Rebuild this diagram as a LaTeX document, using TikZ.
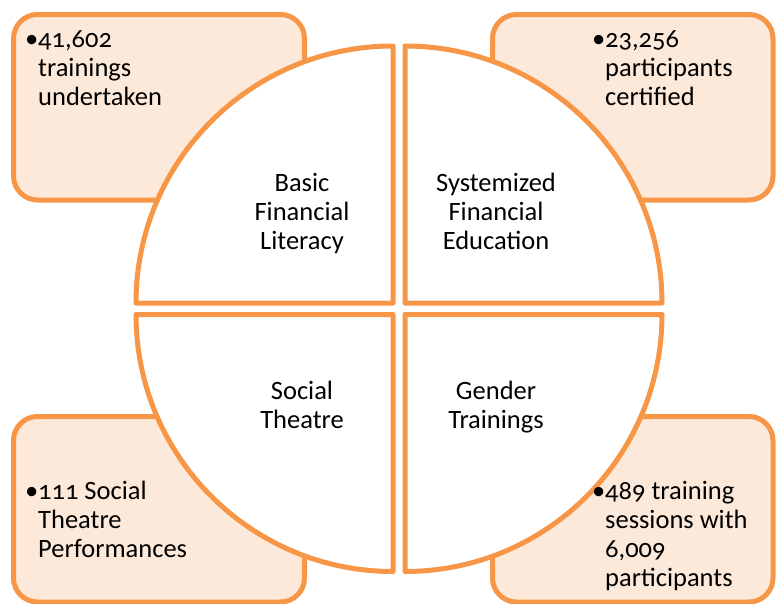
\documentclass[tikz,border=0pt]{standalone}
\usepackage{fontspec}
\setmainfont{Carlito}[Numbers=OldStyle]
\definecolor{borange}{HTML}{F79646}
\definecolor{bfill}{HTML}{FDE9D9}
\begin{document}
\begin{tikzpicture}[x=1pt,y=-1pt,
  box/.style={draw=borange,fill=bfill,line width=5pt,rounded corners=24pt},
  quad/.style={draw=borange,fill=white,line width=5pt,line join=round},
  boxtext/.style={anchor=base west,align=left,inner sep=0pt,font=\fontsize{26.5}{29}\selectfont},
  quadtext/.style={anchor=base,align=center,inner sep=0pt,font=\fontsize{26.5}{29}\selectfont}]
\useasboundingbox (0,0) rectangle (776,603);
% corner boxes
\draw[box] (13.5,14.5) rectangle (304.5,200);
\draw[box] (492.5,14.5) rectangle (773,200);
\draw[box] (13.5,416.5) rectangle (304.5,602);
\draw[box] (492.5,416.5) rectangle (773,602);
% quadrants
\draw[quad] (136,303) arc[start angle=180,end angle=270,radius=257] -- (393,303) -- cycle;
\draw[quad] (405,46) arc[start angle=270,end angle=360,radius=257] -- (405,303) -- cycle;
\draw[quad] (662,314.5) arc[start angle=0,end angle=90,radius=257] -- (405,314.5) -- cycle;
\draw[quad] (393,571.5) arc[start angle=90,end angle=180,radius=257] -- (393,314.5) -- cycle;
% texts (anchor = baseline of last line)
\node[boxtext] (t1) at (38,105) {\llap{•}41,602\\trainings\\undertaken};
\node[boxtext] (t2) at (605,105) {\llap{•}23,256\\participants\\certified};
\node[boxtext] (t3) at (38,557) {\llap{•}111 Social\\Theatre\\Performances};
\node[boxtext] (t4) at (605,586) {\llap{•}489 training\\sessions with\\6,009\\participants};
\node[quadtext] (q1) at (302,249) {Basic\\Financial\\Literacy};
\node[quadtext] (q2) at (496,249) {Systemized\\Financial\\Education};
\node[quadtext] (q3) at (302,428) {Social\\Theatre};
\node[quadtext] (q4) at (496,428) {Gender\\Trainings};
\end{tikzpicture}
\end{document}
